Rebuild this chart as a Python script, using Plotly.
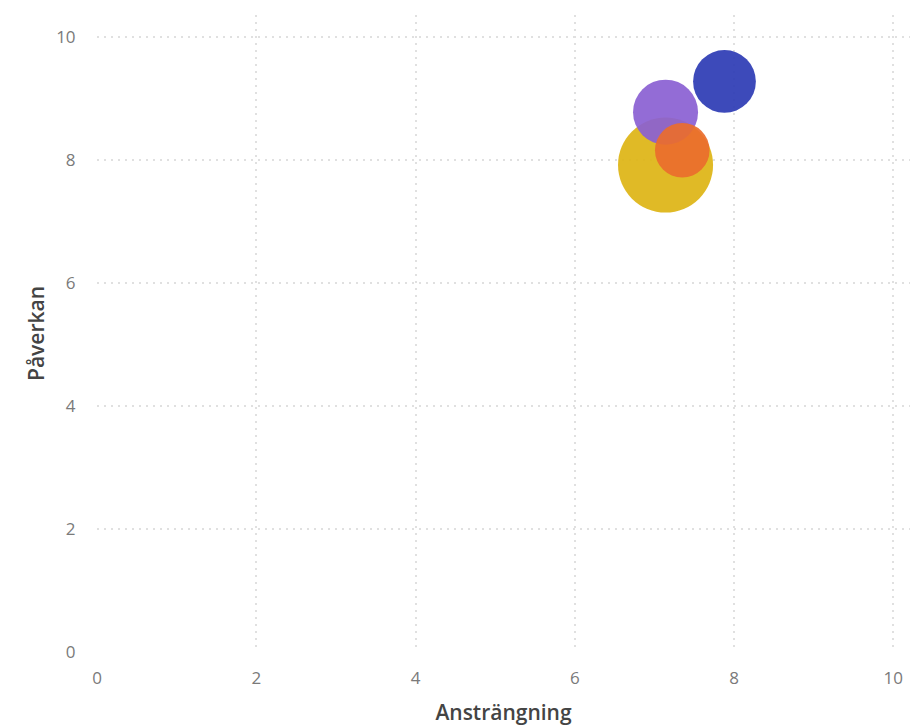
import plotly.graph_objects as go

# Initiativ: ansträngning (x), påverkan (y) och storlek (bubbelyta)
namn = ["Gul", "Lila", "Orange", "Blå"]
anstrangning = [7.14, 7.14, 7.35, 7.88]
paverkan = [7.92, 8.78, 8.16, 9.28]
storlek = [9.4, 4.4, 3.1, 4.1]
farger = ["#DDB414", "#8A60D2", "#EA6D2C", "#2C3BB4"]

tickvals = [0, 2, 4, 6, 8, 10]
ticktext = ["0", "2", "4", "6", "8", "10"]

fig = go.Figure()
for n, x, y, s, c in zip(namn, anstrangning, paverkan, storlek, farger):
    fig.add_trace(go.Scatter(
        x=[x], y=[y], mode="markers", name=n,
        marker=dict(size=[s], sizemode="area", sizeref=2 / 961,
                    color=c, opacity=0.92, line=dict(width=0)),
        hoverinfo="x+y+name",
    ))

axis_common = dict(
    tickvals=tickvals, ticktext=ticktext,
    showgrid=True, gridcolor="#E0E0E0", griddash="2px,5px", gridwidth=1.5,
    zeroline=False, showline=False,
    ticks="outside", tickcolor="rgba(0,0,0,0)",
    tickfont=dict(family="Open Sans", size=17, color="#7A7A7A"),
)

fig.update_layout(
    width=913, height=726,
    margin=dict(l=97, r=3, t=15, b=74),
    plot_bgcolor="white", paper_bgcolor="white",
    showlegend=False,
    xaxis=dict(range=[0, 10.21], ticklen=11,
               title=dict(text="Ansträngning", standoff=16,
                          font=dict(family="Open Sans", size=21, color="#444444", weight=600)),
               **axis_common),
    yaxis=dict(range=[0, 10.36], ticklen=17,
               title=dict(text="Påverkan", standoff=5,
                          font=dict(family="Open Sans", size=21, color="#444444", weight=600)),
               **axis_common),
)

fig.write_html("out.html")
